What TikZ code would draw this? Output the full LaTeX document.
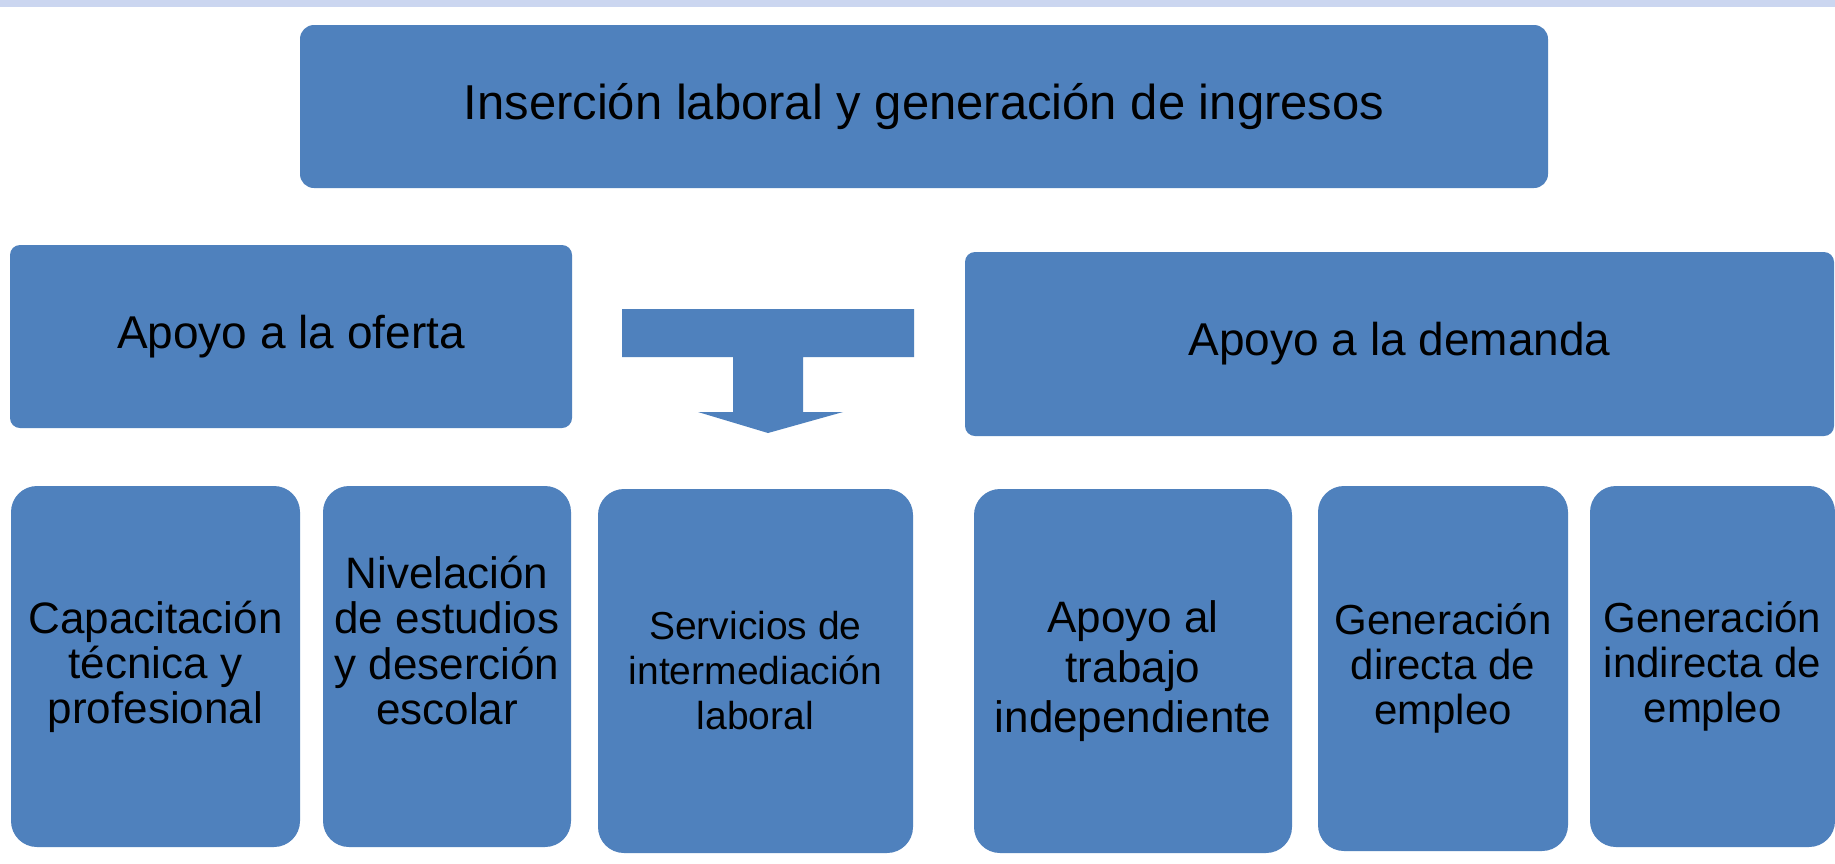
\documentclass[tikz,border=0pt]{standalone}
\usepackage{fontspec}
\setmainfont{Liberation Sans}
\definecolor{boxblue}{HTML}{4F81BD}
\definecolor{bandblue}{HTML}{CBD6F0}
\begin{document}
\begin{tikzpicture}[x=0.5pt,y=-0.5pt,
  box/.style={fill=boxblue,draw=none,inner sep=0pt,align=center,text=black},
  topbox/.style={box,rounded corners=7pt,font=\fontsize{24.5}{28}\selectfont},
  midbox/.style={box,rounded corners=5pt,font=\fontsize{23}{26}\selectfont},
  lowbox/.style={box,rounded corners=13pt,font=\fontsize{21}{22.5}\selectfont}]
\useasboundingbox (0,0) rectangle (1835,863);
\fill[white] (0,0) rectangle (1835,863);
\fill[bandblue] (0,0) rectangle (1835,7);
\node[topbox,minimum width=624pt,minimum height=81.5pt] (title) at (924,106.5) {Inserción laboral y generación de ingresos};
\node[midbox,minimum width=281pt,minimum height=91.5pt] (oferta) at (291,336.5) {Apoyo a la oferta};
\node[midbox,minimum width=434.5pt,minimum height=92pt] (demanda) at (1399.5,344) {Apoyo a la demanda};
\node[lowbox,font=\fontsize{22}{22.5}\selectfont,minimum width=144.5pt,minimum height=180.5pt] (b1) at (155.5,666.5) {Capacitación\\técnica y\\profesional};
\node[lowbox,align=none,font=\fontsize{22}{22.5}\selectfont,minimum width=124pt,minimum height=180.5pt] (b2) at (447,666.5) {\raisebox{4.5pt}[0pt][0pt]{\begin{tabular}{@{}c@{}}Nivelación\\de estudios\\y deserción\\escolar\end{tabular}}};
\node[lowbox,font=\fontsize{19.5}{22.5}\selectfont,minimum width=157.5pt,minimum height=182pt] (b3) at (755.5,671) {Servicios de\\intermediación\\laboral};
\node[lowbox,font=\fontsize{22}{25}\selectfont,minimum width=159pt,minimum height=182pt] (b4) at (1133,671) {Apoyo al\\trabajo\\independiente};
\node[lowbox,minimum width=125pt,minimum height=182.5pt] (b5) at (1443,668.5) {Generación\\directa de\\empleo};
\node[lowbox,minimum width=122.5pt,minimum height=180.5pt] (b6) at (1712.5,666.5) {Generación\\indirecta de\\empleo};
\fill[boxblue] (622,309) -- (914,309) -- (914,357) -- (803,357) -- (803,412) -- (843,412) -- (768,433) -- (698,412) -- (733,412) -- (733,357) -- (622,357) -- cycle;
\end{tikzpicture}
\end{document}
